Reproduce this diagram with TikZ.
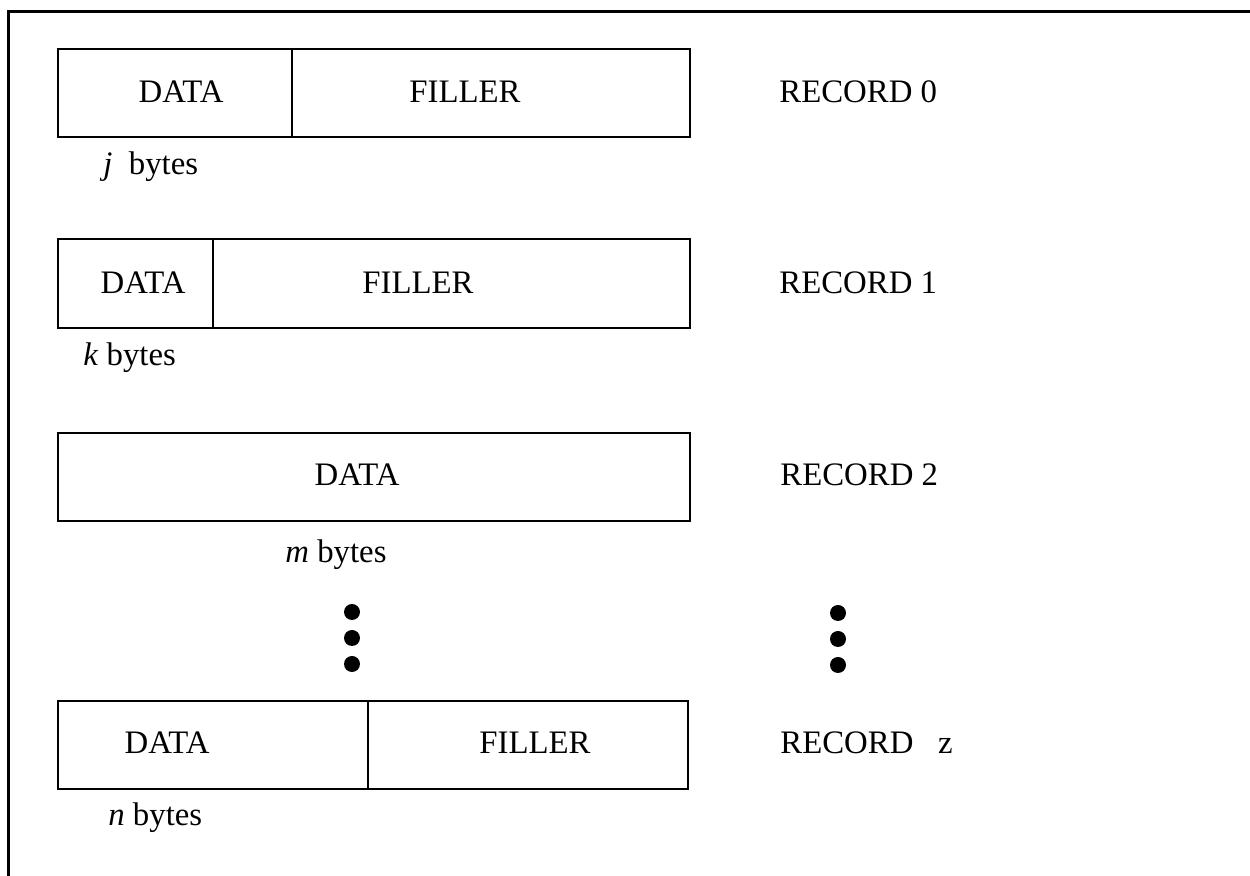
\documentclass[tikz,border=0pt]{standalone}
\usepackage{fontspec}
\setmainfont{Liberation Serif}
\begin{document}
\begin{tikzpicture}[x=0.5pt,y=-0.5pt,
  cell/.style={draw,line width=1.4pt,rectangle,inner sep=0pt,outer sep=0pt,anchor=north west},
  txt/.style={inner sep=0pt,font=\fontsize{16.4}{19}\selectfont},
  dot/.style={circle,fill,inner sep=0pt,minimum size=8pt},
  frame/.style={line width=1.5pt}]
\useasboundingbox (0,0) rectangle (1250,876);
% outer frame (only left and top visible)
\coordinate (fbl) at (8,876);
\coordinate (ftl) at (8,12);
\coordinate (ftr) at (1250,12);
\draw[frame] (fbl) -- (ftl) -- (ftr);

% Record 0
\node[cell,minimum width=117pt,minimum height=44pt] (r0d) at (58,49) {};
\node[cell,minimum width=199pt,minimum height=44pt] (r0f) at (292,49) {};
\node[txt] (r0dt) at (181,92) {DATA};
\node[txt] (r0ft) at (465,92) {FILLER};
\node[txt,anchor=west] (r0r) at (779,92) {RECORD 0};
\node[txt,anchor=west] (r0b) at (103,167) {\textit{j}\ \ bytes};

% Record 1
\node[cell,minimum width=77.5pt,minimum height=44.5pt] (r1d) at (58,239) {};
\node[cell,minimum width=238.5pt,minimum height=44.5pt] (r1f) at (213,239) {};
\node[txt] (r1dt) at (143,283) {DATA};
\node[txt] (r1ft) at (418,283) {FILLER};
\node[txt,anchor=west] (r1r) at (779,283) {RECORD 1};
\node[txt,anchor=west] (r1b) at (83,358) {\textit{k} bytes};

% Record 2
\node[cell,minimum width=316pt,minimum height=44pt] (r2d) at (58,433) {};
\node[txt] (r2dt) at (357,475) {DATA};
\node[txt,anchor=west] (r2r) at (780,475) {RECORD 2};
\node[txt] (r2b) at (336,555) {\textit{m} bytes};

% dots
\node[dot] (l1) at (352,612) {};
\node[dot] (l2) at (352,638) {};
\node[dot] (l3) at (352,664) {};
\node[dot] (q1) at (838,613) {};
\node[dot] (q2) at (838,639) {};
\node[dot] (q3) at (838,665) {};

% Record z
\node[cell,minimum width=155pt,minimum height=44pt] (rzd) at (58,701) {};
\node[cell,minimum width=160pt,minimum height=44pt] (rzf) at (368,701) {};
\node[txt] (rzdt) at (167,743) {DATA};
\node[txt] (rzft) at (535,743) {FILLER};
\node[txt,anchor=west] (rzr) at (780,743) {RECORD\hspace{0.75em}z};
\node[txt,anchor=west] (rzb) at (108,818) {\textit{n} bytes};
\end{tikzpicture}
\end{document}
